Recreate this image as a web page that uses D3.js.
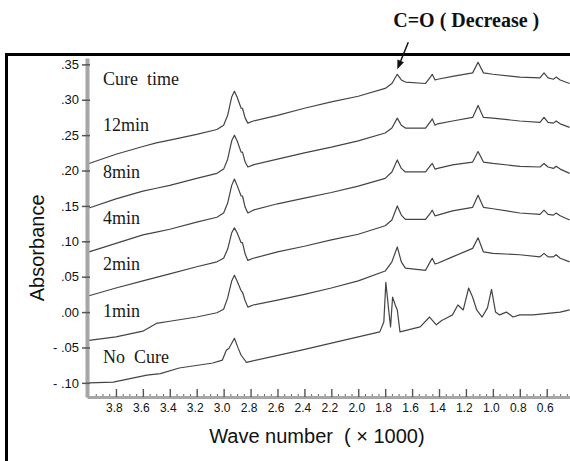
<!DOCTYPE html>
<head>
  <meta charset="utf-8">
  <script src="https://d3js.org/d3.v7.min.js"></script>
  <style>
    body { margin:0; background:#fff; }
    text { white-space: pre; }
  </style>
</head>
<body>
<script>

  // wave numbers (x 1000) shared by the cured spectra
  var waveCured = [4.00, 3.80, 3.60, 3.50, 3.40, 3.20, 3.05, 3.00, 2.97, 2.94, 2.92, 2.90, 2.87, 2.86, 2.84, 2.82, 2.78,
    2.60, 2.40, 2.20, 2.00, 1.80, 1.75, 1.71, 1.68, 1.65, 1.50, 1.46, 1.45, 1.43, 1.41, 1.30, 1.15, 1.11, 1.07, 1.00,
    0.80, 0.65, 0.62, 0.59, 0.55, 0.53, 0.50, 0.43];

  var abs12min = [0.210, 0.223, 0.234, 0.239, 0.243, 0.251, 0.258, 0.264, 0.278, 0.304, 0.312, 0.304, 0.288, 0.288, 0.274, 0.267, 0.270,
    0.278, 0.288, 0.297, 0.305, 0.316, 0.323, 0.336, 0.328, 0.325, 0.323, 0.333, 0.336, 0.328, 0.329, 0.333, 0.338, 0.353, 0.338, 0.336,
    0.332, 0.331, 0.338, 0.331, 0.329, 0.332, 0.328, 0.323];
  var abs8min = [0.147, 0.160, 0.171, 0.175, 0.179, 0.189, 0.196, 0.202, 0.216, 0.242, 0.250, 0.242, 0.226, 0.226, 0.212, 0.205, 0.208,
    0.216, 0.225, 0.233, 0.242, 0.253, 0.260, 0.274, 0.264, 0.260, 0.260, 0.270, 0.273, 0.264, 0.266, 0.270, 0.275, 0.292, 0.275, 0.274,
    0.270, 0.268, 0.275, 0.268, 0.267, 0.270, 0.266, 0.261];
  var abs4min = [0.085, 0.097, 0.109, 0.113, 0.117, 0.127, 0.134, 0.140, 0.154, 0.179, 0.188, 0.179, 0.164, 0.164, 0.148, 0.140, 0.144,
    0.153, 0.161, 0.169, 0.178, 0.189, 0.198, 0.215, 0.203, 0.198, 0.198, 0.208, 0.210, 0.202, 0.203, 0.208, 0.212, 0.227, 0.212, 0.210,
    0.206, 0.205, 0.210, 0.205, 0.203, 0.206, 0.202, 0.196];
  var abs2min = [0.023, 0.034, 0.044, 0.049, 0.054, 0.064, 0.071, 0.076, 0.089, 0.112, 0.119, 0.112, 0.098, 0.098, 0.082, 0.073, 0.076,
    0.085, 0.093, 0.102, 0.110, 0.122, 0.130, 0.150, 0.137, 0.131, 0.131, 0.141, 0.144, 0.136, 0.137, 0.143, 0.148, 0.165, 0.148, 0.146,
    0.140, 0.138, 0.144, 0.138, 0.137, 0.140, 0.136, 0.130];
  var abs1min = [-0.040, -0.035, -0.027, -0.016, -0.013, -0.007, -0.001, 0.004, 0.020, 0.044, 0.052, 0.044, 0.030, 0.028, 0.016, 0.007, 0.010,
    0.017, 0.025, 0.034, 0.044, 0.058, 0.071, 0.092, 0.071, 0.062, 0.059, 0.073, 0.076, 0.068, 0.069, 0.078, 0.090, 0.105, 0.085, 0.083,
    0.081, 0.078, 0.083, 0.078, 0.078, 0.081, 0.076, 0.071];

  // uncured sample has its own peaks
  var waveNoCure = [4.00, 3.82, 3.57, 3.47, 3.33, 3.08, 3.01, 2.98, 2.96, 2.92, 2.89, 2.87, 2.83, 2.43, 2.00, 1.84, 1.81, 1.795, 1.775,
    1.76, 1.745, 1.725, 1.71, 1.69, 1.54, 1.47, 1.42, 1.38, 1.34, 1.30, 1.26, 1.22, 1.18, 1.15, 1.12, 1.08, 1.04, 1.01, 0.98, 0.95,
    0.90, 0.85, 0.80, 0.70, 0.50, 0.43];
  var absNoCure = [-0.100, -0.099, -0.089, -0.087, -0.079, -0.072, -0.068, -0.054, -0.051, -0.037, -0.052, -0.061, -0.071, -0.054, -0.035,
    -0.028, -0.014, 0.042, 0.005, -0.021, 0.021, 0.010, 0.003, -0.028, -0.021, -0.007, -0.018, -0.012, -0.008, -0.004, 0.010, 0.003,
    0.034, 0.021, 0.003, -0.007, 0.006, 0.032, 0.000, -0.004, 0.000, -0.007, -0.004, -0.004, 0.000, 0.003];

  var seriesLabels = ["Cure  time", "12min", "8min", "4min", "2min", "1min", "No  Cure"];
  var xTicks = [3.8, 3.6, 3.4, 3.2, 3.0, 2.8, 2.6, 2.4, 2.2, 2.0, 1.8, 1.6, 1.4, 1.2, 1.0, 0.8, 0.6];
  var yTicks = [-0.10, -0.05, 0.00, 0.05, 0.10, 0.15, 0.20, 0.25, 0.30, 0.35];

  var W = 570, H = 461;
  var margin = {top: 58, right: 0, bottom: 64, left: 87},
  width = W - margin.left - margin.right,
  height = H - margin.top - margin.bottom;

  var svg = d3.select("body").append("svg")
    .attr("width", W)
    .attr("height", H);

  // outer frame (top and left edges only, the rest is cut off)
  svg.append("line")
    .attr("x1", 5).attr("x2", W).attr("y1", 54.5).attr("y2", 54.5)
    .attr("stroke", "#000").attr("stroke-width", 3);
  svg.append("line")
    .attr("x1", 6.5).attr("x2", 6.5).attr("y1", 53).attr("y2", H)
    .attr("stroke", "#000").attr("stroke-width", 3);

  var g = svg.append("g")
    .attr("transform", "translate(" + margin.left + "," + margin.top + ")");

  // wave number axis runs high -> low
  var x = d3.scaleLinear().domain([4.015, 0.427]).range([0, width]);
  var y = d3.scaleLinear().domain([-0.12, 0.359]).range([height, 0]);

  var line = d3.line()
    .x(function(d) { return x(d[0]); })
    .y(function(d) { return y(d[1]); });

  var series = [
    d3.zip(waveCured, abs12min),
    d3.zip(waveCured, abs8min),
    d3.zip(waveCured, abs4min),
    d3.zip(waveCured, abs2min),
    d3.zip(waveCured, abs1min),
    d3.zip(waveNoCure, absNoCure)
  ];

  g.selectAll("path.spec").data(series).enter()
    .append("path")
    .attr("class", "spec")
    .attr("d", line)
    .attr("fill", "none")
    .attr("stroke", "#444")
    .attr("stroke-width", 1.2)
    .attr("stroke-linejoin", "round");

  // y axis
  function fmtY(d) {
    var s = d3.format(".2f")(Math.abs(d)).replace(/^0/, "");
    return d < -1e-9 ? "- " + s : s;
  }

  var gy = g.append("g")
    .call(d3.axisLeft(y).tickValues(yTicks).tickFormat(fmtY)
      .tickSizeInner(5).tickSizeOuter(0).tickPadding(3));
  gy.select(".domain").attr("stroke", "#a6a6a6").attr("stroke-width", 4);
  gy.selectAll(".tick line").attr("x1", 3).attr("stroke", "#555").attr("stroke-width", 1.5);
  gy.selectAll(".tick text")
    .style("font-family", "'Liberation Sans', Arial, sans-serif")
    .style("font-size", "13px")
    .attr("fill", "#111");

  // x axis, ticks point up
  var minor = d3.range(0.45, 4.0, 0.05).filter(function(v) {
    return Math.abs(Math.round(v * 5) - v * 5) > 0.01;
  });
  var gm = g.append("g")
    .attr("transform", "translate(0," + height + ")")
    .call(d3.axisBottom(x).tickValues(minor).tickFormat("").tickSizeInner(-3).tickSizeOuter(0));
  gm.select(".domain").remove();
  gm.selectAll(".tick line").attr("stroke", "#666").attr("stroke-width", 1);

  var gx = g.append("g")
    .attr("transform", "translate(0," + height + ")")
    .call(d3.axisBottom(x).tickValues(xTicks).tickFormat(d3.format(".1f"))
      .tickSizeInner(-8).tickSizeOuter(0).tickPadding(6));
  gx.select(".domain").attr("stroke", "#a6a6a6").attr("stroke-width", 3);
  gx.selectAll(".tick line").attr("stroke", "#555").attr("stroke-width", 1.4);
  gx.selectAll(".tick text")
    .attr("dx", -2)
    .style("font-family", "'Liberation Sans', Arial, sans-serif")
    .style("font-size", "12px")
    .attr("fill", "#111");

  // series labels on the left
  var rows = d3.scalePoint().domain(seriesLabels).range([27, 305]);
  g.selectAll("text.lab").data(seriesLabels).enter()
    .append("text")
    .attr("class", "lab")
    .attr("x", 16)
    .attr("y", function(d) { return rows(d); })
    .style("font-family", "'Liberation Serif', 'Times New Roman', serif")
    .style("font-size", "18px")
    .attr("fill", "#1a1a1a")
    .text(function(d) { return d; });

  // axis titles
  svg.append("text")
    .attr("transform", "translate(44," + (margin.top + height * 0.56) + ") rotate(-90)")
    .style("text-anchor", "middle")
    .style("font-family", "'Liberation Sans', Arial, sans-serif")
    .style("font-size", "20px")
    .attr("fill", "#111")
    .text("Absorbance");

  svg.append("text")
    .attr("x", margin.left + width * 0.476)
    .attr("y", 443)
    .style("text-anchor", "middle")
    .style("font-family", "'Liberation Sans', Arial, sans-serif")
    .style("font-size", "20px")
    .attr("fill", "#111")
    .text("Wave number  ( \u00d7 1000)");

  // C=O annotation arrow pointing at the top spectrum's carbonyl peak
  var tip = [x(1.71), y(0.336) - 5];
  var tail = [tip[0] + 11, tip[1] - 27];
  var len = Math.hypot(tip[0] - tail[0], tip[1] - tail[1]);
  var ux = (tip[0] - tail[0]) / len, uy = (tip[1] - tail[1]) / len;
  var base = [tip[0] - 9 * ux, tip[1] - 9 * uy];
  g.append("line")
    .attr("x1", tail[0]).attr("y1", tail[1])
    .attr("x2", base[0]).attr("y2", base[1])
    .attr("stroke", "#111").attr("stroke-width", 1.5);
  g.append("path")
    .attr("d", "M" + tip + "L" + [base[0] - 3.5 * uy, base[1] + 3.5 * ux] +
      "L" + [base[0] + 3.5 * uy, base[1] - 3.5 * ux] + "Z")
    .attr("fill", "#111");

  g.append("text")
    .attr("x", tail[0] - 15)
    .attr("y", tail[1] - 15)
    .style("font-family", "'Liberation Serif', 'Times New Roman', serif")
    .style("font-size", "20px")
    .style("font-weight", "bold")
    .attr("fill", "#111")
    .text("C=O ( Decrease )");

</script>
</body>
